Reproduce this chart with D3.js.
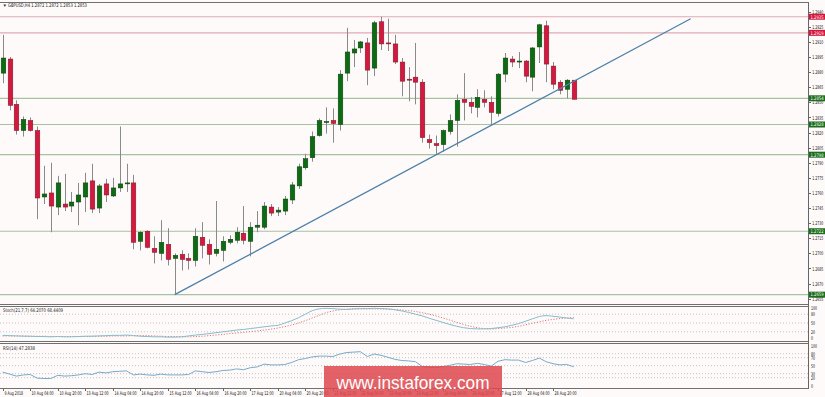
<!DOCTYPE html>
<html>
<head>
<meta charset="utf-8">
<style>
  body { margin: 0; background: #fffafa; }
  svg { display: block; font-family: "Liberation Sans", Arial, sans-serif; }
  .sm { font-family: "Liberation Sans Narrow", "DejaVu Sans Condensed", Arial, sans-serif; }
  .ax text { font-size: 5px; fill: #111; font-family: "Liberation Sans Narrow", "DejaVu Sans Condensed", Arial, sans-serif; }
  .ax path, .ax line { stroke: #666; shape-rendering: crispEdges; }
</style>
</head>
<body>
<div id="chart"></div>
<script src="https://d3js.org/d3.v7.min.js"></script>
<script>
'use strict';

var width = 825, height = 397;

// GBPUSD H4 candles: [open, high, low, close]
var candles = [
  [1.2879, 1.2917, 1.2869, 1.2894], [1.2893, 1.2895, 1.2842, 1.2847], [1.2848, 1.2852, 1.2818, 1.2822],
  [1.2822, 1.2836, 1.2816, 1.2833], [1.2832, 1.2835, 1.2821, 1.2822], [1.2822, 1.2826, 1.2734, 1.2755],
  [1.2756, 1.2787, 1.2749, 1.2759], [1.2760, 1.2790, 1.2721, 1.2747], [1.2746, 1.2777, 1.2738, 1.2770],
  [1.2749, 1.2779, 1.2742, 1.2746], [1.2747, 1.2761, 1.2741, 1.2751], [1.2751, 1.2770, 1.2728, 1.2758],
  [1.2756, 1.2780, 1.2741, 1.2770], [1.2772, 1.2789, 1.2740, 1.2744], [1.2745, 1.2769, 1.2740, 1.2767],
  [1.2769, 1.2774, 1.2751, 1.2758], [1.2757, 1.2775, 1.2756, 1.2765], [1.2765, 1.2826, 1.2761, 1.2769],
  [1.2769, 1.2789, 1.2761, 1.2770], [1.2770, 1.2778, 1.2704, 1.2711], [1.2712, 1.2722, 1.2703, 1.2721],
  [1.2722, 1.2723, 1.2705, 1.2706], [1.2705, 1.2717, 1.2690, 1.2701], [1.2700, 1.2733, 1.2693, 1.2711],
  [1.2709, 1.2725, 1.2688, 1.2694], [1.2695, 1.2700, 1.2659, 1.2698], [1.2699, 1.2703, 1.2683, 1.2694],
  [1.2695, 1.2700, 1.2684, 1.2693], [1.2693, 1.2725, 1.2687, 1.2717], [1.2716, 1.2731, 1.2695, 1.2708],
  [1.2709, 1.2714, 1.2689, 1.2699], [1.2700, 1.2752, 1.2697, 1.2704], [1.2703, 1.2717, 1.2692, 1.2712],
  [1.2711, 1.2718, 1.2709, 1.2714], [1.2713, 1.2726, 1.2710, 1.2721], [1.2720, 1.2747, 1.2709, 1.2713],
  [1.2712, 1.2731, 1.2697, 1.2726], [1.2726, 1.2742, 1.2721, 1.2728], [1.2726, 1.2751, 1.2724, 1.2747],
  [1.2746, 1.2749, 1.2737, 1.2740], [1.2741, 1.2746, 1.2737, 1.2743], [1.2742, 1.2757, 1.2738, 1.2754],
  [1.2753, 1.2771, 1.2749, 1.2768], [1.2767, 1.2789, 1.2764, 1.2786], [1.2785, 1.2799, 1.2783, 1.2794],
  [1.2795, 1.2821, 1.2791, 1.2816], [1.2817, 1.2834, 1.2816, 1.2832], [1.2830, 1.2845, 1.2819, 1.2831],
  [1.2832, 1.2844, 1.2810, 1.2829], [1.2828, 1.2882, 1.2822, 1.2878], [1.2879, 1.2924, 1.2871, 1.2900],
  [1.2899, 1.2912, 1.2885, 1.2903], [1.2904, 1.2911, 1.2899, 1.2910], [1.2909, 1.2914, 1.2867, 1.2882],
  [1.2884, 1.2931, 1.2876, 1.2929], [1.2930, 1.2935, 1.2902, 1.2908], [1.2909, 1.2933, 1.2901, 1.2908],
  [1.2908, 1.2917, 1.2888, 1.2890], [1.2890, 1.2894, 1.2856, 1.2871], [1.2873, 1.2885, 1.2851, 1.2872],
  [1.2875, 1.2909, 1.2848, 1.2870], [1.2870, 1.2873, 1.2810, 1.2815], [1.2813, 1.2818, 1.2804, 1.2810],
  [1.2809, 1.2817, 1.2798, 1.2807], [1.2808, 1.2823, 1.2801, 1.2822], [1.2821, 1.2838, 1.2818, 1.2832],
  [1.2832, 1.2858, 1.2806, 1.2852], [1.2853, 1.2879, 1.2832, 1.2850], [1.2850, 1.2855, 1.2839, 1.2846],
  [1.2845, 1.2863, 1.2835, 1.2855], [1.2853, 1.2862, 1.2845, 1.2850], [1.2850, 1.2856, 1.2827, 1.2840],
  [1.2839, 1.2879, 1.2836, 1.2878], [1.2878, 1.2899, 1.2870, 1.2894], [1.2893, 1.2896, 1.2885, 1.2890],
  [1.2890, 1.2900, 1.2884, 1.2891], [1.2891, 1.2892, 1.2870, 1.2876], [1.2875, 1.2905, 1.2861, 1.2904],
  [1.2905, 1.2928, 1.2889, 1.2927], [1.2926, 1.2931, 1.2870, 1.2888], [1.2886, 1.2890, 1.2863, 1.2868],
  [1.2870, 1.2872, 1.2858, 1.2862], [1.2863, 1.2873, 1.2854, 1.2872], [1.2872, 1.2872, 1.2853, 1.2853]
];

var stochK = [
  8, 7, 6, 5, 5, 4, 4, 3, 4, 3, 3, 4, 5, 5, 6, 7, 8, 8, 9, 7,
  5, 4, 3, 3, 2, 2, 3, 6, 9, 11, 14, 17, 20, 23, 26, 28, 31, 34, 37, 40,
  42, 50, 58, 68, 80, 92, 98, 100, 99, 97, 96, 98, 99, 99, 100, 99, 98, 95, 91, 86,
  80, 74, 66, 59, 52, 45, 39, 34, 31, 30, 30, 31, 34, 37, 42, 48, 56, 64, 72, 75,
  73, 70, 67, 64.2
];
var stochD = [
  6, 6, 6, 6, 5, 5, 5, 4, 4, 4, 4, 4, 4, 5, 5, 5, 6, 6, 6, 7,
  7, 7, 6, 5, 4, 4, 3, 3, 4, 5, 7, 9, 11, 14, 16, 18, 21, 23, 26, 29,
  33, 38, 43, 50, 58, 67, 76, 85, 91, 95, 97, 98, 98, 98, 98, 98, 97, 96, 94, 92,
  89, 85, 80, 74, 67, 60, 52, 45, 39, 34, 31, 30, 31, 33, 35, 39, 44, 49, 54, 59,
  62, 65, 67, 68.4
];
var rsi = [
  34, 29, 24, 27, 28, 19, 18, 18, 26, 24, 25, 27, 30, 28, 34, 32, 35, 36, 37, 27,
  29, 27, 26, 29, 27, 27, 27, 28, 37, 35, 33, 35, 38, 39, 42, 40, 45, 47, 54, 52,
  52, 53, 58, 65, 68, 72, 74, 74, 73, 79, 83, 84, 85, 73, 79, 76, 71, 66, 63, 62,
  60, 48, 46, 45, 48, 51, 55, 54, 53, 56, 53, 49, 61, 65, 64, 64, 58, 63, 69, 60,
  55, 52, 53, 47.3
];

var priceTicks = [1.2655, 1.2670, 1.2685, 1.2700, 1.2715, 1.2730, 1.2745, 1.2760, 1.2775,
  1.2790, 1.2805, 1.2820, 1.2835, 1.2850, 1.2865, 1.2880, 1.2895, 1.2910, 1.2925, 1.2940];
var stochTicks = [0, 20, 50, 80, 100];
var rsiTicks = [0, 20, 30, 50, 70, 80, 100];
var timeLabels = ['9 Aug 2018', '10 Aug 04:00', '10 Aug 20:00', '13 Aug 12:00', '14 Aug 04:00',
  '14 Aug 20:00', '15 Aug 12:00', '16 Aug 04:00', '16 Aug 20:00', '17 Aug 12:00', '20 Aug 04:00',
  '20 Aug 20:00', '21 Aug 12:00', '22 Aug 04:00', '22 Aug 20:00', '23 Aug 12:00', '24 Aug 04:00',
  '24 Aug 20:00', '27 Aug 12:00', '28 Aug 04:00', '28 Aug 20:00'];
var resistance = [1.2935, 1.2919];
var support = [1.2854, 1.2828, 1.2798, 1.2722, 1.2659];
var trend = [[25, 1.2659], [100, 1.2933]];

var axisX = 808.5;
var x = d3.scaleLinear().domain([0, 83]).range([2.7, 573.7]);
var y = d3.scaleLinear().domain([1.2655, 1.2940]).range([298.7, 11.7]);
var ys = d3.scaleLinear().domain([0, 100]).range([337.7, 308.3]);
var yr = d3.scaleLinear().domain([0, 100]).range([385.7, 345.7]);

// squeeze small MT4-style labels to their width in the picture
function squeeze(sel, perChar) {
  sel.attr('textLength', function() { return this.textContent.length * perChar; })
    .attr('lengthAdjust', 'spacingAndGlyphs');
}

var svg = d3.select('#chart').append('svg').attr('width', width).attr('height', height);
svg.append('rect').attr('width', width).attr('height', height).attr('fill', '#fffafa');

var defs = svg.append('defs');
defs.append('clipPath').attr('id', 'cm').append('rect').attr('x', 0).attr('y', 2.5).attr('width', axisX).attr('height', 302);
defs.append('clipPath').attr('id', 'cs').append('rect').attr('x', 0).attr('y', 306.5).attr('width', axisX).attr('height', 35);
defs.append('clipPath').attr('id', 'cr').append('rect').attr('x', 0).attr('y', 343.5).attr('width', axisX).attr('height', 45);

// ---- main panel
var main = svg.append('g').attr('clip-path', 'url(#cm)');

main.selectAll('line.res').data(resistance).enter().append('line')
  .attr('x1', 0).attr('x2', axisX).attr('y1', y).attr('y2', y)
  .attr('stroke', '#deaab4').attr('stroke-width', 1.2);
main.selectAll('line.sup').data(support).enter().append('line')
  .attr('x1', 0).attr('x2', axisX).attr('y1', y).attr('y2', y)
  .attr('stroke', '#a6c2a0').attr('stroke-width', 1.2);

var c = main.selectAll('g.c').data(candles).enter().append('g');
c.append('line')
  .attr('x1', function(d, i) { return Math.round(x(i)) + 0.5; })
  .attr('x2', function(d, i) { return Math.round(x(i)) + 0.5; })
  .attr('y1', function(d) { return y(d[1]); })
  .attr('y2', function(d) { return y(d[2]); })
  .attr('stroke', '#8a8a8a').attr('stroke-width', 1);
c.append('rect')
  .attr('x', function(d, i) { return Math.round(x(i)) + 0.5 - 2.3; })
  .attr('width', 4.6)
  .attr('y', function(d) { return y(Math.max(d[0], d[3])); })
  .attr('height', function(d) { return Math.max(1, Math.abs(y(d[0]) - y(d[3]))); })
  .attr('fill', function(d) { return d[3] >= d[0] ? '#0d6b14' : '#d3193f'; })
  .attr('stroke', function(d) { return d[3] >= d[0] ? '#0a3d0c' : '#7d1424'; })
  .attr('stroke-width', 0.5);

main.append('line')
  .attr('x1', x(trend[0][0])).attr('y1', y(trend[0][1]))
  .attr('x2', x(trend[1][0])).attr('y2', y(trend[1][1]))
  .attr('stroke', '#4f82a8').attr('stroke-width', 1.3);

svg.append('text').attr('x', 2.5).attr('y', 7).attr('font-size', 4.5).attr('fill', '#333').text('\u25BC');
svg.append('text').attr('class', 'sm').attr('x', 8).attr('y', 7).attr('font-size', 5).attr('fill', '#222')
  .attr('textLength', 79).attr('lengthAdjust', 'spacingAndGlyphs')
  .text('GBPUSD,H4  1.2872 1.2872 1.2853 1.2853');

// ---- stochastic panel
var st = svg.append('g').attr('clip-path', 'url(#cs)');
st.selectAll('line.g').data([20, 50, 80]).enter().append('line')
  .attr('x1', 0).attr('x2', axisX).attr('y1', ys).attr('y2', ys)
  .attr('stroke', '#c4c4c4').attr('stroke-dasharray', '1,2');
st.append('path').datum(stochD)
  .attr('d', d3.line().x(function(d, i) { return x(i); }).y(ys).curve(d3.curveMonotoneX))
  .attr('fill', 'none').attr('stroke', '#d96a6a').attr('stroke-width', 0.9).attr('stroke-dasharray', '1.2,1.6');
st.append('path').datum(stochK)
  .attr('d', d3.line().x(function(d, i) { return x(i); }).y(ys).curve(d3.curveMonotoneX))
  .attr('fill', 'none').attr('stroke', '#86bccb').attr('stroke-width', 1);
svg.append('text').attr('class', 'sm').attr('x', 3).attr('y', 312).attr('font-size', 5).attr('fill', '#222')
  .attr('textLength', 60).attr('lengthAdjust', 'spacingAndGlyphs')
  .text('Stoch(21,7,7) 64.2070 68.4409');

// ---- RSI panel
var rp = svg.append('g').attr('clip-path', 'url(#cr)');
rp.selectAll('line.g').data([20, 30, 50, 70, 80]).enter().append('line')
  .attr('x1', 0).attr('x2', axisX).attr('y1', yr).attr('y2', yr)
  .attr('stroke', '#c4c4c4').attr('stroke-dasharray', '1,2');
rp.append('path').datum(rsi)
  .attr('d', d3.line().x(function(d, i) { return x(i); }).y(yr))
  .attr('fill', 'none').attr('stroke', '#78a9c9').attr('stroke-width', 1);
svg.append('text').attr('class', 'sm').attr('x', 3).attr('y', 349.5).attr('font-size', 5).attr('fill', '#222')
  .attr('textLength', 32).attr('lengthAdjust', 'spacingAndGlyphs')
  .text('RSI(14) 47.2838');

// ---- frames
var frame = svg.append('g').attr('fill', 'none').attr('stroke', '#707070').attr('shape-rendering', 'crispEdges');
frame.append('line').attr('x1', 0).attr('x2', axisX).attr('y1', 2.5).attr('y2', 2.5);
[304.5, 306.5, 341.5, 343.5, 388.5].forEach(function(v) {
  frame.append('line').attr('x1', 0).attr('x2', axisX).attr('y1', v).attr('y2', v);
});

// ---- right axes
svg.append('g').attr('class', 'ax').attr('transform', 'translate(' + axisX + ',0)')
  .call(d3.axisRight(y).tickValues(priceTicks).tickSize(2.5).tickPadding(1.2).tickFormat(d3.format('.4f')))
  .call(function(g) { g.select('.domain').attr('d', 'M0,2.5V388.5'); squeeze(g.selectAll('text'), 1.85); });
svg.append('g').attr('class', 'ax').attr('transform', 'translate(' + axisX + ',0)')
  .call(d3.axisRight(ys).tickValues(stochTicks).tickSize(0).tickPadding(2.5))
  .call(function(g) { g.select('.domain').remove(); squeeze(g.selectAll('text'), 2); });
svg.append('g').attr('class', 'ax').attr('transform', 'translate(' + axisX + ',0)')
  .call(d3.axisRight(yr).tickValues(rsiTicks).tickSize(0).tickPadding(2.5))
  .call(function(g) { g.select('.domain').remove(); squeeze(g.selectAll('text'), 2); });

// level labels on the price axis
function levelBox(v, col) {
  var g = svg.append('g').attr('transform', 'translate(' + (axisX + 0.5) + ',' + y(v) + ')');
  g.append('rect').attr('x', 0).attr('y', -3).attr('width', 16).attr('height', 6).attr('fill', col);
  g.append('text').attr('class', 'sm').attr('x', 1.5).attr('y', 1.8).attr('font-size', 4.8).attr('fill', '#fff')
    .attr('textLength', 13).attr('lengthAdjust', 'spacingAndGlyphs').text(v.toFixed(4));
}
resistance.forEach(function(v) { levelBox(v, '#d4173d'); });
support.forEach(function(v) { levelBox(v, '#1c6e1c'); });

// ---- time axis
var tg = svg.append('g');
timeLabels.forEach(function(t, k) {
  var px = Math.round(x(k * 4)) + 0.5;
  tg.append('line').attr('x1', px).attr('x2', px).attr('y1', 388.5).attr('y2', 391).attr('stroke', '#666');
  tg.append('text').attr('class', 'sm').attr('x', px + 1).attr('y', 395).attr('font-size', 5).attr('fill', '#111')
    .attr('textLength', t.length * 1.85).attr('lengthAdjust', 'spacingAndGlyphs').text(t);
});

// ---- watermark
var wm = svg.append('g');
wm.append('rect').attr('x', 324).attr('y', 366).attr('width', 178).attr('height', 31).attr('fill', 'rgba(221,72,78,0.86)');
wm.append('text').attr('x', 413).attr('y', 388.5).attr('text-anchor', 'middle').attr('font-size', 19)
  .attr('textLength', 153).attr('lengthAdjust', 'spacingAndGlyphs')
  .attr('fill', '#fff').text('www.instaforex.com');
</script>
</body>
</html>
